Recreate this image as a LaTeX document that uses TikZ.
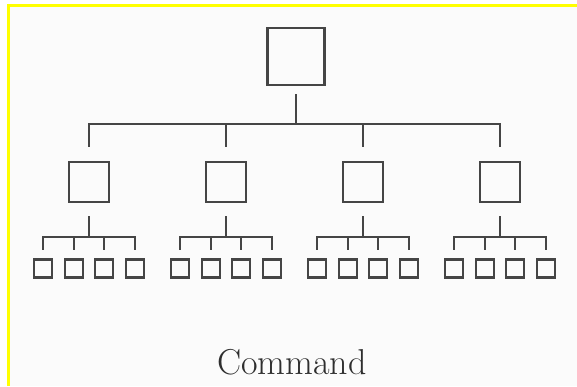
\documentclass[tikz,border=0pt]{standalone}
\usetikzlibrary{positioning,calc}
\definecolor{inkgray}{HTML}{454545}
\definecolor{textgray}{HTML}{2E2E2E}
\definecolor{paper}{HTML}{FBFBFB}
\definecolor{frameyellow}{HTML}{FFFF00}

\begin{document}
\begin{tikzpicture}[x=1pt, y=-1pt,
    bigbox/.style={draw=inkgray, line width=2.8pt, minimum size=57pt, inner sep=0pt},
    midbox/.style={draw=inkgray, line width=2.4pt, minimum size=40pt, inner sep=0pt},
    smallbox/.style={draw=inkgray, line width=2.4pt, minimum size=18pt, inner sep=0pt},
    link/.style={draw=inkgray, line width=1.8pt}]
    \useasboundingbox (0,0) rectangle (577,386);
    \fill[white] (0,0) rectangle (577,386);
    \fill[paper] (8,5) rectangle (577,386);
    \draw[frameyellow, line width=3pt] (8,386) -- (8,5) -- (577,5);

    % top of the chain
    \node[bigbox] (cmd) at (296,56.5) {};
    \coordinate (cmdbar) at (296,124);
    \draw[link, shorten <=8pt] (cmd.south) -- (cmdbar);

    % units and their teams
    \foreach \g/\x in {1/89, 2/226, 3/363, 4/500} {
        \node[midbox] (unit\g) at (\x,182) {};
        \draw[link, shorten >=14pt] (cmdbar) -| (unit\g.north);
        \coordinate (unitbar\g) at (\x,237);
        \draw[link, shorten <=13pt] (unit\g.south) -- (unitbar\g);
        \foreach \s/\dx in {1/-46, 2/-15, 3/15, 4/46} {
            \node[smallbox] (team\g\s) at (\x+\dx,268.5) {};
            \draw[link, shorten >=8pt] (unitbar\g) -| (team\g\s.north);
        }
    }

    \node[anchor=base, font=\fontsize{36}{42}\selectfont, text=textgray] (caption) at (292,374) {Command};
\end{tikzpicture}
\end{document}
